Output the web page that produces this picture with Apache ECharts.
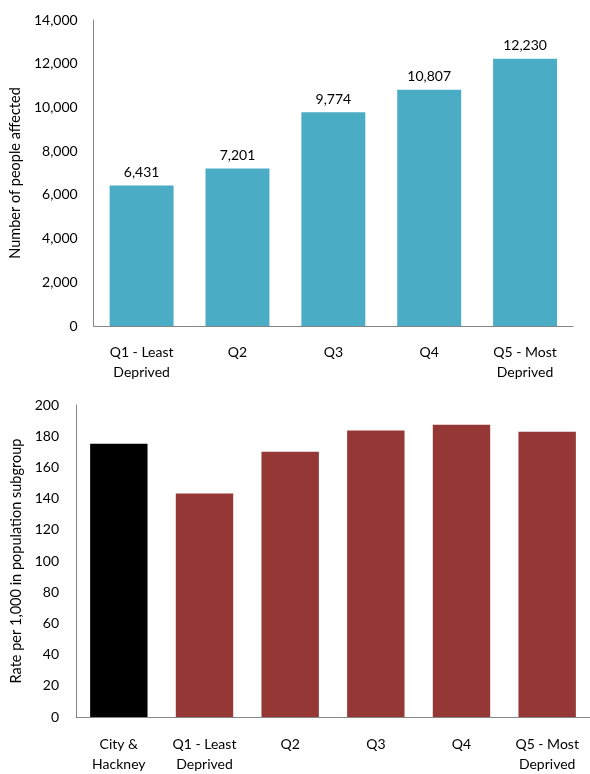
<!DOCTYPE html>
<html>
<head>
<meta charset="utf-8">
<script src="https://cdn.jsdelivr.net/npm/echarts@6/dist/echarts.min.js"></script>
<style>html,body{margin:0;padding:0;background:#fff}#c{width:590px;height:774px}</style>
</head>
<body>
<div id="c"></div>
<script>
const topCategories = ['Q1 - Least\nDeprived', 'Q2', 'Q3', 'Q4', 'Q5 - Most\nDeprived'];
const topValues = [6431, 7201, 9774, 10807, 12230];
const bottomCategories = ['City &\nHackney', 'Q1 - Least\nDeprived', 'Q2', 'Q3', 'Q4', 'Q5 - Most\nDeprived'];
const bottomValues = [175.2, 143.3, 170.0, 183.7, 187.3, 182.9];
const bottomColors = ['#000000', '#953735', '#953735', '#953735', '#953735', '#953735'];

const FONT = 'Lato';
const TXT = '#000';
const AX = '#868686';
const fmt = v => v.toLocaleString('en-US');

const chart = echarts.init(document.getElementById('c'));
chart.setOption({
  animation: false,
  textStyle: { fontFamily: FONT, color: TXT },
  grid: [
    { left: 93, top: 20, width: 480, height: 306 },
    { left: 76, top: 405, width: 514, height: 315 }
  ],
  xAxis: [
    {
      gridIndex: 0, type: 'category', data: topCategories,
      axisLine: { lineStyle: { color: AX } },
      axisTick: { length: 5, lineStyle: { color: AX } },
      axisLabel: { color: TXT, fontFamily: FONT, fontSize: 14, lineHeight: 20, margin: 16, interval: 0 }
    },
    {
      gridIndex: 1, type: 'category', data: bottomCategories,
      axisLine: { lineStyle: { color: AX } },
      axisTick: { length: 5, lineStyle: { color: AX } },
      axisLabel: { color: TXT, fontFamily: FONT, fontSize: 14, lineHeight: 20, margin: 17, interval: 0 }
    }
  ],
  yAxis: [
    {
      gridIndex: 0, type: 'value', min: 0, max: 14000, interval: 2000,
      name: 'Number of people affected', nameLocation: 'middle', nameGap: 67,
      nameTextStyle: { color: TXT, fontFamily: FONT, fontSize: 14.5 },
      axisLine: { show: true, lineStyle: { color: AX } },
      axisTick: { show: false },
      splitLine: { show: false },
      axisLabel: { color: TXT, fontFamily: FONT, fontSize: 14, margin: 16, formatter: fmt }
    },
    {
      gridIndex: 1, type: 'value', min: 0, max: 200, interval: 20,
      name: 'Rate per 1,000 in population subgroup', nameLocation: 'middle', nameGap: 50,
      nameTextStyle: { color: TXT, fontFamily: FONT, fontSize: 14.5 },
      axisLine: { show: true, lineStyle: { color: AX } },
      axisTick: { show: false },
      splitLine: { show: false },
      axisLabel: { color: TXT, fontFamily: FONT, fontSize: 14, margin: 17 }
    }
  ],
  series: [
    {
      type: 'bar', xAxisIndex: 0, yAxisIndex: 0, data: topValues,
      barWidth: '66.7%',
      itemStyle: { color: '#4BACC6' },
      label: { show: true, position: 'top', distance: 6, color: TXT, fontFamily: FONT, fontSize: 14, formatter: p => fmt(p.value) }
    },
    {
      type: 'bar', xAxisIndex: 1, yAxisIndex: 1,
      data: bottomValues.map((v, i) => ({ value: v, itemStyle: { color: bottomColors[i] } })),
      barWidth: '67%'
    }
  ]
});
</script>
</body>
</html>
